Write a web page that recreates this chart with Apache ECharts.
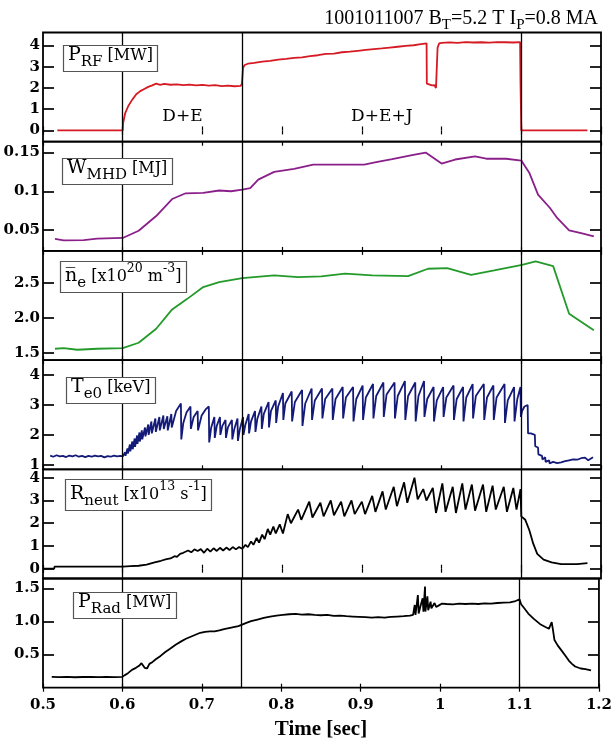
<!DOCTYPE html>
<html><head><meta charset="utf-8">
<script src="https://cdn.jsdelivr.net/npm/echarts@6/dist/echarts.min.js"></script>
<style>html,body{margin:0;padding:0;background:#fff}#c{width:615px;height:742px}</style>
</head><body><div id="c"></div>
<script>
// ---------- data (time [s], value) ----------
const prfData = [[0.518,0],[0.6,0],[0.6005,0.35],[0.603,0.8],[0.607,1.15],[0.612,1.45],[0.617,1.7],[0.622,1.85],[0.627,1.95],[0.632,2.05],[0.637,2.12],[0.642,2.2],[0.647,2.15],[0.652,2.19],[0.66,2.15],[0.668,2.17],[0.676,2.13],[0.684,2.16],[0.692,2.12],[0.70,2.14],[0.708,2.11],[0.716,2.13],[0.724,2.09],[0.732,2.11],[0.74,2.08],[0.748,2.1],[0.7495,2.2],[0.751,2.95],[0.753,3.08],[0.757,3.14],[0.765,3.18],[0.775,3.24],[0.785,3.27],[0.795,3.33],[0.805,3.37],[0.815,3.42],[0.825,3.44],[0.835,3.5],[0.845,3.54],[0.855,3.6],[0.865,3.62],[0.875,3.68],[0.885,3.71],[0.895,3.75],[0.905,3.79],[0.915,3.83],[0.925,3.86],[0.935,3.9],[0.945,3.94],[0.955,3.98],[0.965,4.01],[0.972,4.05],[0.9812,4.1],[0.9815,2.2],[0.984,2.15],[0.988,2.12],[0.991,2.13],[0.993,2.0],[0.9945,2.05],[0.995,3.9],[0.997,4.1],[1.0,4.12],[1.01,4.15],[1.02,4.12],[1.03,4.16],[1.04,4.14],[1.05,4.15],[1.06,4.13],[1.07,4.16],[1.08,4.15],[1.09,4.14],[1.0985,4.16],[1.099,2.3],[1.1,0],[1.183,0]];

const wmhdData = [[0.515,0.0384],[0.526,0.0366],[0.551,0.037],[0.568,0.0388],[0.6,0.0397],[0.62,0.049],[0.642,0.068],[0.662,0.090],[0.679,0.0974],[0.701,0.098],[0.721,0.101],[0.736,0.100],[0.75,0.102],[0.76,0.104],[0.77,0.115],[0.79,0.125],[0.815,0.129],[0.839,0.1345],[0.903,0.1345],[0.918,0.1375],[0.938,0.1414],[0.963,0.1466],[0.98,0.150],[1.0,0.1358],[1.017,0.141],[1.042,0.145],[1.056,0.142],[1.081,0.142],[1.1,0.1397],[1.11,0.124],[1.121,0.0957],[1.136,0.0784],[1.145,0.0655],[1.16,0.0496],[1.175,0.046],[1.191,0.0418]];

const neData = [[0.515,1.557],[0.526,1.567],[0.543,1.543],[0.568,1.557],[0.6,1.567],[0.62,1.643],[0.642,1.843],[0.662,2.119],[0.681,2.27],[0.701,2.438],[0.721,2.51],[0.75,2.567],[0.79,2.605],[0.82,2.58],[0.849,2.59],[0.879,2.63],[0.913,2.605],[0.958,2.595],[0.983,2.70],[1.007,2.71],[1.037,2.614],[1.066,2.676],[1.101,2.757],[1.118,2.805],[1.14,2.738],[1.16,2.057],[1.191,1.82]];

const teData = [[0.509,1.31],[0.513,1.27],[0.517,1.32],[0.521,1.28],[0.525,1.30],[0.529,1.26],[0.533,1.31],[0.537,1.28],[0.541,1.32],[0.545,1.27],[0.549,1.30],[0.553,1.26],[0.557,1.30],[0.561,1.27],[0.565,1.31],[0.569,1.28],[0.573,1.30],[0.577,1.25],[0.581,1.29],[0.585,1.27],[0.589,1.31],[0.593,1.28],[0.597,1.30],[0.600,1.28],
[0.603,1.42],[0.6035,1.30],[0.606,1.55],[0.6065,1.38],[0.609,1.68],[0.6095,1.45],[0.612,1.78],[0.6125,1.52],[0.615,1.88],[0.6155,1.60],[0.618,1.98],[0.6185,1.70],[0.621,2.08],[0.6215,1.78],[0.624,2.15],[0.6245,1.85],[0.628,2.25],[0.6285,1.95],[0.632,2.35],[0.6325,2.00],[0.636,2.45],[0.6365,2.05],[0.641,2.55],[0.6415,2.10],[0.646,2.60],[0.6465,2.15],[0.651,2.65],[0.6515,2.20],[0.656,2.62],[0.6565,2.15],[0.661,2.70],[0.6615,2.25],[0.667,2.80],[0.673,3.05],[0.6735,1.85],[0.676,2.40],[0.680,2.75],[0.685,2.95],[0.6855,2.20],[0.689,2.60],[0.694,2.80],[0.6945,2.15],[0.699,2.65],[0.704,2.85],[0.708,2.95],[0.7085,1.75],[0.711,2.25],[0.715,2.60],[0.7155,1.90],[0.718,2.30],[0.722,2.60],[0.7225,2.00],[0.725,2.30],[0.729,2.50],[0.7295,1.90],[0.732,2.25],[0.737,2.50],[0.7375,1.85],[0.740,2.20],[0.744,2.55],[0.7445,1.80],[0.747,2.20],[0.751,2.60],[0.7515,2.00],[0.754,2.35],[0.758,2.70],[0.7585,2.05],[0.761,2.45],[0.766,2.80],[0.7665,2.10],[0.769,2.55],[0.774,2.95],[0.7745,2.20],[0.777,2.70],[0.783,3.10],[0.7835,2.25],[0.786,2.80],[0.792,3.15],[0.7925,2.40],[0.795,2.95],[0.801,3.40],[0.8015,2.50],[0.804,3.05],[0.812,3.45],[0.8125,2.45],[0.816,3.10],[0.825,3.50],[0.8255,2.30],[0.829,3.05],[0.837,3.55],[0.8375,2.50],[0.841,3.15],[0.850,3.55],[0.8505,2.55],[0.854,3.20],[0.863,3.55],[0.8635,2.50],[0.867,3.20],[0.876,3.60],[0.8765,2.55],[0.880,3.25],[0.889,3.60],[0.8895,2.45],[0.893,3.20],[0.901,3.65],[0.9015,2.50],[0.905,3.25],[0.914,3.70],[0.9145,2.55],[0.918,3.30],[0.927,3.75],[0.9275,2.60],[0.931,3.35],[0.941,3.75],[0.9415,2.55],[0.945,3.30],[0.954,3.80],[0.9545,2.50],[0.958,3.30],[0.967,3.75],[0.9675,2.45],[0.971,3.30],[0.978,3.80],[0.9785,2.60],[0.982,3.20],[0.990,3.60],[0.9905,2.45],[0.994,3.15],[1.002,3.60],[1.0025,2.60],[1.006,3.25],[1.015,3.65],[1.0155,2.50],[1.019,3.20],[1.027,3.60],[1.0275,2.45],[1.031,3.25],[1.039,3.70],[1.0395,2.55],[1.043,3.30],[1.053,3.70],[1.0535,2.50],[1.057,3.25],[1.065,3.65],[1.0655,2.50],[1.069,3.25],[1.079,3.70],[1.0795,2.40],[1.083,3.15],[1.091,3.60],[1.0915,2.45],[1.095,3.20],[1.099,3.60],[1.0995,2.60],[1.101,2.80],[1.104,2.95],[1.108,3.00],[1.1085,2.05],[1.112,2.05],[1.117,2.00],[1.1175,1.62],[1.121,1.58],[1.1215,1.35],[1.126,1.30],[1.1265,1.18],[1.13,1.25],[1.1305,1.10],[1.135,1.15],[1.1355,1.05],[1.14,1.10],[1.145,1.06],[1.15,1.08],[1.155,1.12],[1.16,1.15],[1.165,1.18],[1.17,1.17],[1.175,1.22],[1.18,1.24],[1.184,1.15],[1.187,1.20],[1.19,1.25]];

const rneutData = [[0.501,0.0],[0.514,0.0],[0.5145,0.09],[0.53,0.09],[0.56,0.09],[0.6,0.09],[0.61,0.11],[0.62,0.13],[0.63,0.18],[0.64,0.28],[0.648,0.35],[0.655,0.42],[0.66,0.45],[0.665,0.55],[0.668,0.52],[0.672,0.65],[0.676,0.70],[0.678,0.62],[0.682,0.80],[0.686,0.72],[0.69,0.85],[0.694,0.78],[0.698,0.86],[0.702,0.70],[0.706,0.88],[0.71,0.75],[0.714,0.90],[0.718,0.78],[0.722,0.92],[0.726,0.80],[0.73,0.93],[0.734,0.82],[0.738,0.95],[0.742,0.85],[0.746,0.95],[0.75,0.88],[0.754,1.05],[0.757,0.95],[0.761,1.20],[0.764,1.05],[0.768,1.35],[0.771,1.15],[0.775,1.50],[0.778,1.30],[0.782,1.75],[0.785,1.50],[0.789,1.85],[0.792,1.55],[0.797,1.95],[0.801,1.55],[0.807,2.40],[0.811,2.00],[0.820,2.60],[0.824,2.15],[0.834,2.95],[0.838,2.25],[0.848,2.90],[0.852,2.30],[0.861,3.00],[0.865,2.35],[0.874,2.95],[0.878,2.30],[0.887,3.00],[0.891,2.40],[0.900,2.95],[0.904,2.40],[0.913,3.20],[0.917,2.50],[0.926,3.40],[0.930,2.60],[0.940,3.60],[0.944,2.75],[0.953,3.80],[0.957,2.90],[0.966,4.00],[0.970,3.05],[0.977,3.50],[0.981,3.00],[0.989,3.55],[0.993,2.45],[1.001,3.75],[1.005,2.50],[1.014,3.60],[1.018,2.45],[1.026,3.75],[1.030,2.60],[1.038,3.70],[1.042,2.55],[1.052,3.70],[1.056,2.50],[1.064,3.65],[1.068,2.60],[1.078,3.60],[1.082,2.50],[1.090,3.55],[1.094,2.60],[1.099,3.50],[1.1,2.30],[1.105,2.15],[1.11,1.70],[1.115,1.10],[1.12,0.65],[1.128,0.40],[1.138,0.28],[1.15,0.20],[1.17,0.20],[1.183,0.25]];

const pradData = [[0.511,0.165],[0.52,0.16],[0.53,0.165],[0.54,0.158],[0.55,0.162],[0.56,0.165],[0.57,0.16],[0.58,0.163],[0.59,0.16],[0.6,0.165],[0.603,0.19],[0.607,0.22],[0.612,0.27],[0.617,0.30],[0.621,0.33],[0.624,0.37],[0.626,0.35],[0.628,0.30],[0.631,0.29],[0.634,0.36],[0.638,0.39],[0.642,0.43],[0.648,0.48],[0.654,0.54],[0.66,0.59],[0.667,0.65],[0.674,0.70],[0.68,0.74],[0.686,0.77],[0.692,0.80],[0.698,0.83],[0.704,0.845],[0.71,0.85],[0.716,0.85],[0.722,0.865],[0.728,0.885],[0.734,0.90],[0.74,0.915],[0.746,0.93],[0.75,0.95],[0.756,0.98],[0.762,1.005],[0.77,1.03],[0.778,1.055],[0.786,1.075],[0.794,1.09],[0.802,1.10],[0.81,1.11],[0.818,1.115],[0.826,1.105],[0.834,1.11],[0.842,1.10],[0.85,1.095],[0.858,1.10],[0.866,1.085],[0.874,1.09],[0.882,1.08],[0.89,1.075],[0.898,1.07],[0.906,1.065],[0.914,1.06],[0.922,1.065],[0.93,1.06],[0.938,1.07],[0.946,1.075],[0.954,1.08],[0.962,1.09],[0.966,1.10],[0.968,1.25],[0.969,1.10],[0.972,1.40],[0.973,1.12],[0.975,1.22],[0.978,1.35],[0.979,1.15],[0.981,1.53],[0.9815,1.15],[0.984,1.38],[0.985,1.17],[0.988,1.30],[0.989,1.20],[0.993,1.28],[0.995,1.22],[0.998,1.24],[1.002,1.27],[1.008,1.265],[1.016,1.26],[1.024,1.27],[1.032,1.265],[1.04,1.27],[1.048,1.265],[1.056,1.275],[1.064,1.27],[1.072,1.28],[1.08,1.285],[1.088,1.29],[1.095,1.31],[1.1,1.335],[1.102,1.26],[1.106,1.2],[1.111,1.12],[1.118,1.04],[1.126,0.96],[1.132,0.92],[1.137,0.89],[1.139,0.90],[1.1405,0.99],[1.142,0.88],[1.144,0.72],[1.148,0.64],[1.153,0.56],[1.158,0.48],[1.162,0.41],[1.166,0.36],[1.17,0.32],[1.177,0.29],[1.183,0.28],[1.19,0.26]];

// axis ticks and labels
const xTicks = [0.5,0.6,0.7,0.8,0.9,1.0,1.1,1.2];
const xTickLabels = ['0.5','0.6','0.7','0.8','0.9','1','1.1','1.2'];
const prfTicks = [0,1,2,3,4];
const wmhdTicks = [0.05,0.1,0.15];
const wmhdTickLabels = ['0.05','0.1','0.15'];
const neTicks = [1.5,2.0,2.5];
const neTickLabels = ['1.5','2.0','2.5'];
const teTicks = [1,2,3,4];
const rneutTicks = [0,1,2,3,4];
const pradTicks = [0.5,1.0,1.5];
const pradTickLabels = ['0.5','1.0','1.5'];
const phaseTimes = [0.6,0.75,1.1];
const regionLabels = ['D+E','D+E+J'];
const regionTimes = [0.675,0.925];

// ---------- layout ----------
const G_LEFT = 43, G_WIDTH = 558, G_TOP = 32.5, G_H = 109.2;
const TICKFONT = 'DejaVu Serif';
const SERIF = 'DejaVu Serif';

const panels = [
  {data: prfData, color:'#d51a24', min:-0.53, max:4.61, ticks: prfTicks, labels: prfTicks.map(String)},
  {data: wmhdData, color:'#8a1f8a', min:0.023, max:0.164, ticks: wmhdTicks, labels: wmhdTickLabels},
  {data: neData, color:'#239a2a', min:1.395, max:2.955, ticks: neTicks, labels: neTickLabels},
  {data: teData, color:'#141a78', min:0.85, max:4.5, ticks: teTicks, labels: teTicks.map(String)},
  {data: rneutData, color:'#000000', min:-0.43, max:4.37, ticks: rneutTicks, labels: rneutTicks.map(String)},
  {data: pradData, color:'#000000', min:0, max:1.65, ticks: pradTicks, labels: pradTickLabels}
];

const grids = [], xAxes = [], yAxes = [], series = [];
panels.forEach((p, i) => {
  grids.push({left: G_LEFT, width: G_WIDTH, top: G_TOP + i*G_H, height: G_H,
    show: true, borderColor: '#000', borderWidth: 1.8, backgroundColor: 'transparent'});
  const last = i === panels.length - 1;
  xAxes.push({gridIndex: i, type: 'value', min: 0.5, max: 1.2, position: 'bottom',
    axisLine: {show: false},
    axisTick: {show: true, inside: true, length: 4, customValues: xTicks, lineStyle: {color: '#000', width: 1.2}},
    axisLabel: {show: last, customValues: xTicks, margin: 10, color: '#000', fontFamily: TICKFONT, fontWeight: 'bold', fontSize: 15,
      formatter: v => { const k = xTicks.findIndex(t => Math.abs(t - v) < 1e-6); return k >= 0 ? xTickLabels[k] : ''; }},
    splitLine: {show: false},
    name: last ? 'Time [sec]' : '', nameLocation: 'middle', nameGap: 31,
    nameTextStyle: {color: '#000', fontFamily: 'Liberation Serif', fontWeight: 'bold', fontSize: 21}
  });
  xAxes.push({gridIndex: i, type: 'value', min: 0.5, max: 1.2, position: 'top',
    axisLine: {show: false},
    axisTick: {show: true, inside: true, length: 4, customValues: xTicks, lineStyle: {color: '#000', width: 1.2}},
    axisLabel: {show: false}, splitLine: {show: false}});
  yAxes.push({gridIndex: i, type: 'value', min: p.min, max: p.max, position: 'left',
    axisLine: {show: false},
    axisTick: {show: true, inside: true, length: 11, customValues: p.ticks, lineStyle: {color: '#000', width: 1.7}},
    axisLabel: {show: true, customValues: p.ticks, margin: 3, color: '#000', fontFamily: TICKFONT, fontWeight: 'bold', fontSize: 15,
      formatter: v => { const k = p.ticks.findIndex(t => Math.abs(t - v) < 1e-9); return k >= 0 ? p.labels[k] : ''; }},
    splitLine: {show: false}});
  yAxes.push({gridIndex: i, type: 'value', min: p.min, max: p.max, position: 'right',
    axisLine: {show: false},
    axisTick: {show: true, inside: true, length: 11, customValues: p.ticks, lineStyle: {color: '#000', width: 1.7}},
    axisLabel: {show: false}, splitLine: {show: false}});
  const s = {type: 'line', xAxisIndex: 2*i, yAxisIndex: 2*i, data: p.data, showSymbol: false, symbol: 'none',
    lineStyle: {color: p.color, width: 1.8}, itemStyle: {color: p.color}, animation: false, silent: true, z: 3,
    markLine: {silent: true, symbol: ['none','none'], label: {show: false}, animation: false,
      lineStyle: {color: '#000', width: 1.3, type: 'solid'},
      data: phaseTimes.map(t => ({xAxis: t}))}};
  if (i === 0) {
    s.markPoint = {silent: true, symbol: 'rect', symbolSize: 1, itemStyle: {color: 'rgba(0,0,0,0)'}, animation: false,
      label: {show: true, position: 'inside', color: '#000', fontFamily: SERIF, fontSize: 17, formatter: q => q.name},
      data: regionLabels.map((n, k) => ({name: n, coord: [regionTimes[k], 0.65]}))};
  }
  if (last) {
    s.markLine.data = phaseTimes.map(t => ({xAxis: t})).concat([[{coord: [0.6, 0.012]}, {coord: [0.75, 0.012]}]]);
  }
  series.push(s);
});

const M = 19, S = 15, B = 16, U = 12.5;
const rich = {
  m: {fontFamily: SERIF, fontSize: M, lineHeight: 29, verticalAlign: 'middle', color: '#000'},
  s: {fontFamily: SERIF, fontSize: S, lineHeight: 12, verticalAlign: 'bottom', color: '#000'},
  b: {fontFamily: SERIF, fontSize: B, lineHeight: 29, verticalAlign: 'middle', color: '#000'},
  u: {fontFamily: SERIF, fontSize: U, lineHeight: 20, verticalAlign: 'top', color: '#000'}
};
const boxTitle = (text, left, top) => ({text, left, top, padding: [1, 5, 2, 5],
  borderColor: '#555', borderWidth: 1.2, backgroundColor: '#fff',
  textStyle: {rich, fontFamily: SERIF, fontWeight: 'normal', color: '#000'}});

const titles = [
  {text: '1001011007 B{t|T}=5.2 T I{t|P}=0.8 MA', right: 12, top: 0,
   textStyle: {fontFamily: 'Liberation Serif', fontSize: 20, fontWeight: 'normal', color: '#000', lineHeight: 28,
     rich: {t: {fontFamily: 'Liberation Serif', fontSize: 15, lineHeight: 12, verticalAlign: 'bottom', color: '#000'}}}},
  boxTitle('{m|P}{s|RF}{b| [MW]}', 63, 40),
  boxTitle('{m|W}{s|MHD}{b| [MJ]}', 62, 153),
  boxTitle('{m|n\u0305}{s|e}{b| [x10}{u|20}{b| m}{u|-3}{b|]}', 60, 261),
  boxTitle('{m|T}{s|e0}{b| [keV]}', 66, 372),
  boxTitle('{m|R}{s|neut}{b| [x10}{u|13}{b| s}{u|-1}{b|]}', 65, 479),
  boxTitle('{m|P}{s|Rad}{b| [MW]}', 73, 587)
];

const chart = echarts.init(document.getElementById('c'), null, {renderer: 'canvas'});
chart.setOption({animation: false, backgroundColor: '#fff', title: titles, grid: grids, xAxis: xAxes, yAxis: yAxes, series});
</script></body></html>
